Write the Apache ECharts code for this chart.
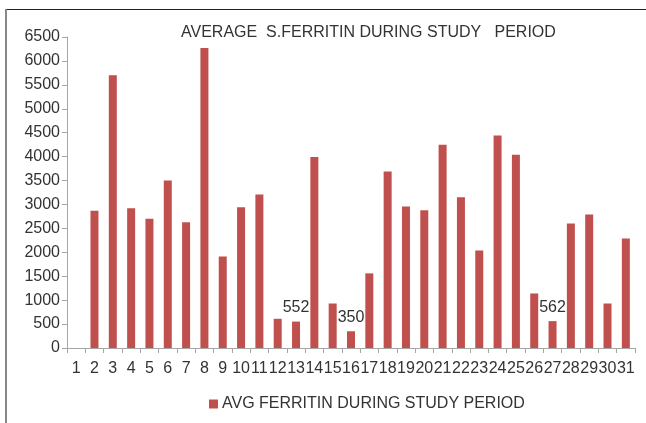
<!DOCTYPE html>
<html>
<head>
<meta charset="utf-8">
<script src="https://cdn.jsdelivr.net/npm/echarts@6/dist/echarts.min.js"></script>
<style>
  html, body { margin: 0; padding: 0; background: #fff; }
  #chart { width: 646px; height: 423px; }
</style>
</head>
<body>
<div id="chart"></div>
<script>
// patient numbers 1..31
const patients = ['1', '2', '3', '4', '5', '6', '7', '8', '9', '10', '11', '12', '13', '14', '15', '16',
  '17', '18', '19', '20', '21', '22', '23', '24', '25', '26', '27', '28', '29', '30', '31']
// average s.ferritin (patient 1 has no bar)
const avgFerritin = [null, 2870, 5700, 2920, 2700, 3500, 2630, 6270, 1910, 2940, 3210, 610, 552, 3990, 930, 350,
  1560, 3690, 2960, 2880, 4250, 3150, 2040, 4440, 4040, 1140, 562, 2600, 2790, 930, 2290]
// only these bars carry a value label
const labelled = ['13', '16', '27']

const chart = echarts.init(document.getElementById('chart'))

const textColor = '#333'
const fontFamily = '"Liberation Sans", Arial, sans-serif'

chart.setOption({
  animation: false,
  backgroundColor: '#fff',
  title: {
    text: 'AVERAGE  S.FERRITIN DURING STUDY   PERIOD',
    left: 181,
    top: 25,
    padding: 0,
    textStyle: { fontSize: 16, fontWeight: 'normal', color: textColor, fontFamily: fontFamily }
  },
  grid: { left: 67, right: 11, top: 37, bottom: 75, containLabel: false },
  legend: {
    left: 204,
    top: 391,
    itemWidth: 9,
    itemHeight: 9,
    itemGap: 4,
    icon: 'rect',
    textStyle: { fontSize: 16, color: textColor, fontFamily: fontFamily, padding: [0, 0, 0, -1] },
    data: ['AVG FERRITIN DURING STUDY PERIOD']
  },
  xAxis: {
    type: 'category',
    data: patients,
    boundaryGap: true,
    axisLine: { lineStyle: { color: '#a6a6a6', width: 1 } },
    axisTick: { show: true, length: 5, lineStyle: { color: '#a6a6a6' } },
    axisLabel: { interval: 0, margin: 13, fontSize: 16, color: textColor, fontFamily: fontFamily }
  },
  yAxis: {
    type: 'value',
    min: 0,
    max: 6500,
    interval: 500,
    splitLine: { show: false },
    axisLine: { show: true, lineStyle: { color: '#a6a6a6', width: 1 } },
    axisTick: { show: true, length: 5, lineStyle: { color: '#a6a6a6' } },
    axisLabel: {
      margin: 7, fontSize: 16, color: textColor, fontFamily: fontFamily,
      formatter: function (v) { return String(v) }
    }
  },
  graphic: [
    { type: 'line', shape: { x1: 6, y1: 9.5, x2: 646, y2: 9.5 }, style: { stroke: '#222', lineWidth: 1 } },
    { type: 'line', shape: { x1: 6, y1: 9, x2: 6, y2: 423 }, style: { stroke: '#888', lineWidth: 2 } }
  ],
  series: [{
    name: 'AVG FERRITIN DURING STUDY PERIOD',
    type: 'bar',
    barWidth: 8,
    itemStyle: { color: '#C0504D' },
    data: avgFerritin.map(function (v, i) {
      return {
        value: v,
        label: {
          show: labelled.indexOf(patients[i]) >= 0,
          position: 'top',
          distance: 6,
          fontSize: 16,
          color: textColor,
          fontFamily: fontFamily
        }
      }
    })
  }]
})
</script>
</body>
</html>
